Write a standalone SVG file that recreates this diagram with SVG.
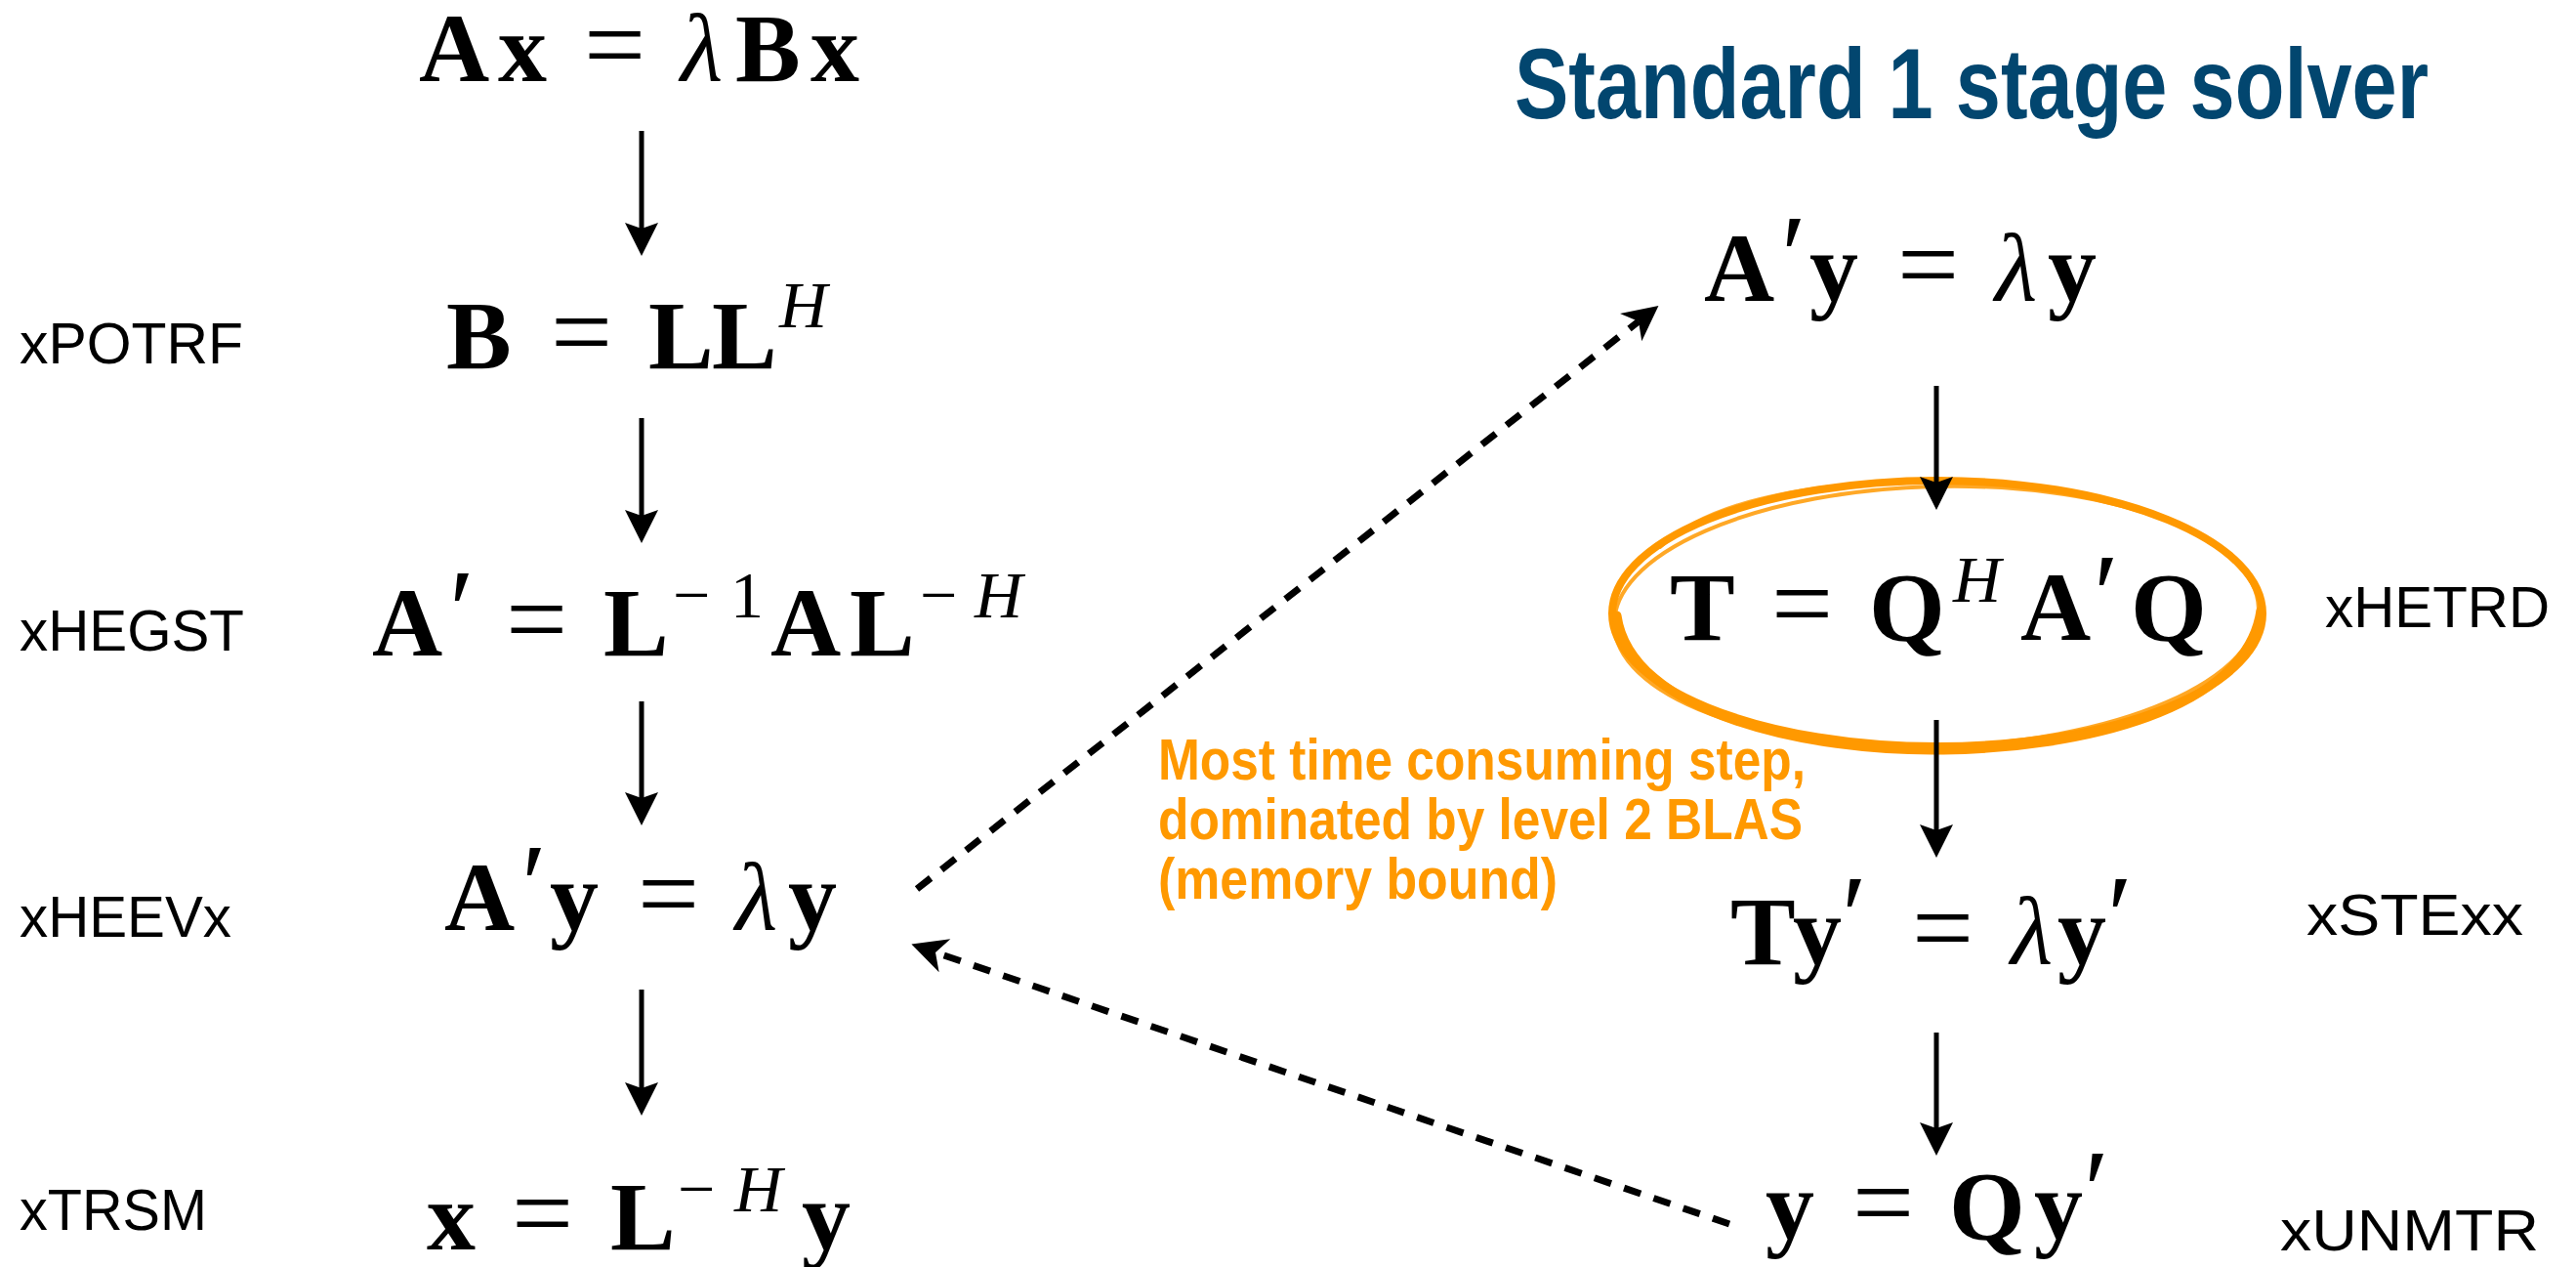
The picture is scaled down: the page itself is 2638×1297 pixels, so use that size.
<svg xmlns="http://www.w3.org/2000/svg" width="2638" height="1297" viewBox="0 0 2638 1297">
<style>
.eq{font-family:"Liberation Serif","DejaVu Serif",serif;font-weight:bold;font-size:100px;fill:#000}
.op{font-weight:normal;font-size:112px}
.it{font-style:italic;font-weight:normal}
.sup{font-size:68px;font-weight:normal}
.pr{font-weight:normal;font-size:118px}
.lbl{font-family:"Liberation Sans",Arial,sans-serif;font-size:60px;fill:#000}
.title{font-family:"Liberation Sans",Arial,sans-serif;font-weight:bold;font-size:102px;fill:#02466F}
.note{font-family:"Liberation Sans",Arial,sans-serif;font-weight:bold;font-size:60px;fill:#FF9900}
.arrow{stroke:#000;stroke-width:5;fill:none;marker-end:url(#ah)}
.dash{stroke:#000;stroke-width:7;fill:none;stroke-dasharray:18 14;marker-end:url(#dh)}
.hl{fill:none;stroke:#FF9900;stroke-linecap:round}
</style>
<defs>
<marker id="ah" markerUnits="userSpaceOnUse" markerWidth="34" markerHeight="34" viewBox="0 0 34 34" refX="6" refY="17" orient="auto" overflow="visible"><path d="M0,0 L34,17 L0,34 L6,17 Z" fill="#000"/></marker>
<marker id="dh" markerUnits="userSpaceOnUse" markerWidth="36" markerHeight="36" viewBox="0 0 36 36" refX="10" refY="18" orient="auto" overflow="visible"><path d="M0,0 L36,18 L0,36 L10,18 Z" fill="#000"/></marker>
</defs>
<rect width="2638" height="1297" fill="#fff"/>

<g id="title"><text class="title" x="1551" y="121" textLength="936" lengthAdjust="spacingAndGlyphs">Standard 1 stage solver</text></g>

<g id="eq-generalized"><text class="eq" y="83"><tspan x="429">A</tspan><tspan x="510">x</tspan><tspan x="598" class="op">=</tspan><tspan x="697" class="it">λ</tspan><tspan x="753">B</tspan><tspan x="830">x</tspan></text></g>

<g id="eq-cholesky"><text class="eq" y="377"><tspan x="457">B</tspan><tspan x="564" class="op">=</tspan><tspan x="664">L</tspan><tspan x="729">L</tspan><tspan x="798" y="335" class="sup it">H</tspan></text>
<text class="lbl" x="20" y="372" textLength="229" lengthAdjust="spacingAndGlyphs">xPOTRF</text></g>

<g id="eq-transform"><text class="eq" y="671"><tspan x="381">A</tspan><tspan x="460" y="665" class="pr">′</tspan><tspan x="518" y="671" class="op">=</tspan><tspan x="618">L</tspan><tspan x="689" y="632" class="sup">−</tspan><tspan x="748" y="632" class="sup">1</tspan><tspan x="789" y="671">A</tspan><tspan x="870">L</tspan><tspan x="942" y="632" class="sup">−</tspan><tspan x="998" y="632" class="sup it">H</tspan></text>
<text class="lbl" x="20" y="666" textLength="230" lengthAdjust="spacingAndGlyphs">xHEGST</text></g>

<g id="eq-standard-left"><text class="eq" y="952"><tspan x="455">A</tspan><tspan x="534" y="946" class="pr">′</tspan><tspan x="563" y="952">y</tspan><tspan x="653" class="op">=</tspan><tspan x="753" class="it">λ</tspan><tspan x="807">y</tspan></text>
<text class="lbl" x="20" y="959" textLength="217" lengthAdjust="spacingAndGlyphs">xHEEVx</text></g>

<g id="eq-backtransform"><text class="eq" y="1279"><tspan x="437">x</tspan><tspan x="524" class="op">=</tspan><tspan x="625">L</tspan><tspan x="694" y="1240" class="sup">−</tspan><tspan x="752" y="1240" class="sup it">H</tspan><tspan x="821" y="1279">y</tspan></text>
<text class="lbl" x="20" y="1259" textLength="192" lengthAdjust="spacingAndGlyphs">xTRSM</text></g>

<g id="eq-standard-right"><text class="eq" y="308"><tspan x="1745">A</tspan><tspan x="1824" y="302" class="pr">′</tspan><tspan x="1853" y="308">y</tspan><tspan x="1943" class="op">=</tspan><tspan x="2043" class="it">λ</tspan><tspan x="2097">y</tspan></text></g>

<g id="eq-tridiag"><text class="eq" y="655"><tspan x="1710">T</tspan><tspan x="1814" class="op">=</tspan><tspan x="1914">Q</tspan><tspan x="2000" y="616" class="sup it">H</tspan><tspan x="2069" y="655">A</tspan><tspan x="2144" y="649" class="pr">′</tspan><tspan x="2182" y="655">Q</tspan></text>
<text class="lbl" x="2381" y="642" textLength="230" lengthAdjust="spacingAndGlyphs">xHETRD</text></g>

<g id="eq-tridiag-solve"><text class="eq" y="987"><tspan x="1772">T</tspan><tspan x="1836">y</tspan><tspan x="1886" y="978" class="pr">′</tspan><tspan x="1958" y="987" class="op">=</tspan><tspan x="2059" class="it">λ</tspan><tspan x="2107">y</tspan><tspan x="2158" y="978" class="pr">′</tspan></text>
<text class="lbl" x="2362" y="957" textLength="222" lengthAdjust="spacingAndGlyphs">xSTExx</text></g>

<g id="eq-q-apply"><text class="eq" y="1268"><tspan x="1808">y</tspan><tspan x="1897" class="op">=</tspan><tspan x="1996">Q</tspan><tspan x="2083">y</tspan><tspan x="2134" y="1259" class="pr">′</tspan></text>
<text class="lbl" x="2335" y="1280" textLength="265" lengthAdjust="spacingAndGlyphs">xUNMTR</text></g>

<g id="highlight">
<ellipse class="hl" cx="1984" cy="628" rx="333" ry="136" stroke-width="8"/>
<ellipse class="hl" cx="1983" cy="631" rx="330" ry="133" stroke-width="4" opacity="0.85" transform="rotate(-1.5 1983 631)"/>
<path class="hl" d="M1656,630 C1670,730 1850,770 1990,768 C2130,766 2300,728 2315,625" stroke-width="9"/>
<path class="hl" d="M1700,560 C1760,505 1880,494 1960,494" stroke-width="4" opacity="0.8"/>
</g>

<g id="note"><text class="note" x="1186" y="798" textLength="663" lengthAdjust="spacingAndGlyphs">Most time consuming step,</text>
<text class="note" x="1186" y="859" textLength="660" lengthAdjust="spacingAndGlyphs">dominated by level 2 BLAS</text>
<text class="note" x="1186" y="920" textLength="409" lengthAdjust="spacingAndGlyphs">(memory bound)</text></g>

<g id="connectors">
<line class="arrow" x1="657" y1="134" x2="657" y2="234"/>
<line class="arrow" x1="657" y1="428" x2="657" y2="528"/>
<line class="arrow" x1="657" y1="718" x2="657" y2="817"/>
<line class="arrow" x1="657" y1="1013" x2="657" y2="1114"/>
<line class="arrow" x1="1983" y1="395" x2="1983" y2="494"/>
<line class="arrow" x1="1983" y1="737" x2="1983" y2="850"/>
<line class="arrow" x1="1983" y1="1057" x2="1983" y2="1155"/>
<line class="dash" x1="939" y1="910" x2="1678" y2="329"/>
<line class="dash" x1="1771" y1="1253" x2="958" y2="975"/>
</g>
</svg>
